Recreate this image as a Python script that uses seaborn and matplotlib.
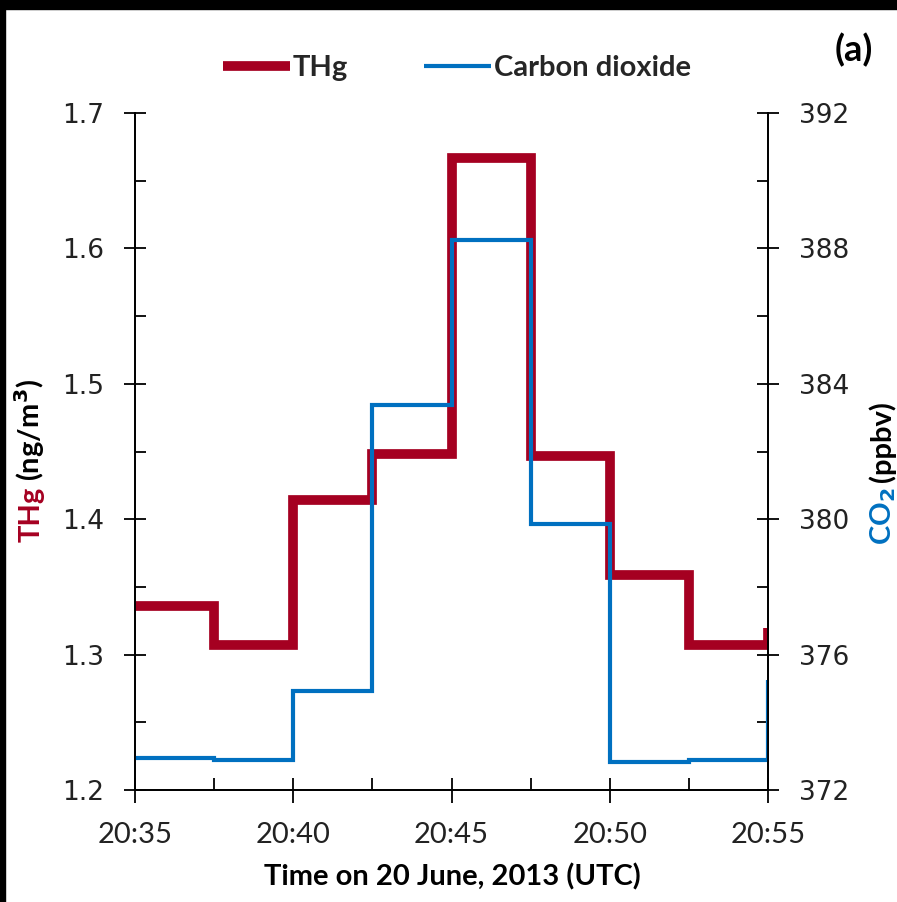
import matplotlib
matplotlib.use("Agg")
import matplotlib.pyplot as plt
import matplotlib.patches as mpatches
from matplotlib.ticker import MultipleLocator, FixedLocator, FormatStrFormatter
import seaborn as sns
import pandas as pd

# ---- data (minutes after 20:35 UTC) ----
minutes = [0, 2.5, 5, 7.5, 10, 12.5, 15, 17.5, 20]
thg = [1.336, 1.307, 1.414, 1.448, 1.667, 1.447, 1.359, 1.307, 1.320]
co2 = [372.95, 372.89, 374.92, 383.37, 388.25, 379.86, 372.83, 372.89, 375.25]
xtick_pos = [0, 5, 10, 15, 20]
xtick_labels = ["20:35", "20:40", "20:45", "20:50", "20:55"]

RED = "#A50021"
BLUE = "#0070C0"

sns.set_theme(style="white")
plt.rcParams["font.family"] = ["DejaVu Sans"]

df = pd.DataFrame({"t": minutes, "thg": thg, "co2": co2})

fig = plt.figure(figsize=(8.97, 9.02), dpi=100)
fig.patch.set_facecolor("white")
fig.add_artist(mpatches.Rectangle((0, 1 - 9 / 902), 1, 9 / 902, transform=fig.transFigure,
                                  color="black", zorder=-10))
fig.add_artist(mpatches.Rectangle((0, 0), 5 / 897, 1, transform=fig.transFigure,
                                  color="black", zorder=-10))

ax = fig.add_axes([135 / 897, 1 - 790 / 902, (768 - 135) / 897, (790 - 113) / 902])
ax2 = ax.twinx()

sns.lineplot(data=df, x="t", y="thg", ax=ax, color=RED, linewidth=7,
             drawstyle="steps-post", label="THg", legend=False,
             solid_joinstyle="miter", solid_capstyle="butt")
sns.lineplot(data=df, x="t", y="co2", ax=ax2, color=BLUE, linewidth=3,
             drawstyle="steps-post", label="Carbon dioxide", legend=False,
             solid_joinstyle="miter", solid_capstyle="butt")

ax.set_xlim(0, 20)
ax.set_ylim(1.2, 1.7)
ax2.set_ylim(372, 392)
for a in (ax, ax2):
    a.set_facecolor("none")
    a.set_xlabel("")
    a.set_ylabel("")
    a.spines["top"].set_visible(False)
    for s in ("left", "right", "bottom"):
        a.spines[s].set_color("black")
        a.spines[s].set_linewidth(1.3)
    a.grid(False)
ax.patch.set_visible(False)

lab_font = ["Lato", "DejaVu Sans"]

ax.xaxis.set_major_locator(FixedLocator(xtick_pos))
ax.set_xticklabels(xtick_labels, family=lab_font, fontsize=21)
ax.xaxis.set_minor_locator(MultipleLocator(2.5))
ax.yaxis.set_major_locator(MultipleLocator(0.1))
ax.yaxis.set_minor_locator(MultipleLocator(0.05))
ax.yaxis.set_major_formatter(FormatStrFormatter("%.1f"))
ax2.yaxis.set_major_locator(MultipleLocator(4))
ax2.yaxis.set_minor_locator(MultipleLocator(2))

ax.tick_params(axis="x", which="major", direction="inout", length=18, width=1.3,
               colors="black", pad=14, bottom=True)
ax.tick_params(axis="x", which="minor", direction="in", length=9, width=1.3,
               colors="black", bottom=True)
ax.tick_params(axis="y", which="major", direction="inout", length=16, width=1.3,
               colors="black", pad=14, labelsize=19, left=True)
ax.tick_params(axis="y", which="minor", direction="in", length=8, width=1.3,
               colors="black", left=True)
ax2.tick_params(axis="y", which="major", direction="inout", length=16, width=1.3,
                colors="black", pad=14, labelsize=19, right=True)
ax2.tick_params(axis="y", which="minor", direction="in", length=8, width=1.3,
                colors="black", right=True)
for lab in ax.get_xticklabels() + ax.get_yticklabels() + ax2.get_yticklabels():
    lab.set_color("#222222")

fig.text(452 / 897, 1 - 877 / 902, "Time on 20 June, 2013 (UTC)", ha="center", va="center",
         fontsize=21, fontweight="bold", family=lab_font, color="black")
fig.text(854 / 897, 1 - 50 / 902, "(a)", ha="center", va="center",
         fontsize=26, fontweight="bold", family=lab_font, color="black")

# legend
h1, l1 = ax.get_legend_handles_labels()
h2, l2 = ax2.get_legend_handles_labels()
leg = fig.legend(h1 + h2, l1 + l2, loc="center", bbox_to_anchor=(457 / 897, 1 - 68 / 902),
                 ncol=2, frameon=False, handlelength=2.3, handletextpad=0.1, columnspacing=2.6,
                 prop={"family": lab_font, "weight": "bold", "size": 21})

# multicolour axis labels
fig.canvas.draw()
renderer = fig.canvas.get_renderer()

def stacked_label(x, y0, parts):
    y = y0
    for txt, col in parts:
        t = fig.text(x, y, txt, rotation=90, rotation_mode="anchor", ha="left",
                     va="baseline", fontsize=21, fontweight="bold", family=lab_font,
                     color=col, transform=fig.transFigure)
        bb = t.get_window_extent(renderer)
        y += bb.height / fig.bbox.height + 0.006

stacked_label(40 / 897, 1 - 542 / 902, [("THg", RED), ("(ng/m$^{\\mathbf{3}}$)", "black")])
stacked_label(891 / 897, 1 - 545 / 902, [("CO$_{\\mathbf{2}}$", BLUE), ("(ppbv)", "black")])

fig.savefig("out.png", dpi=100, facecolor=fig.get_facecolor())
